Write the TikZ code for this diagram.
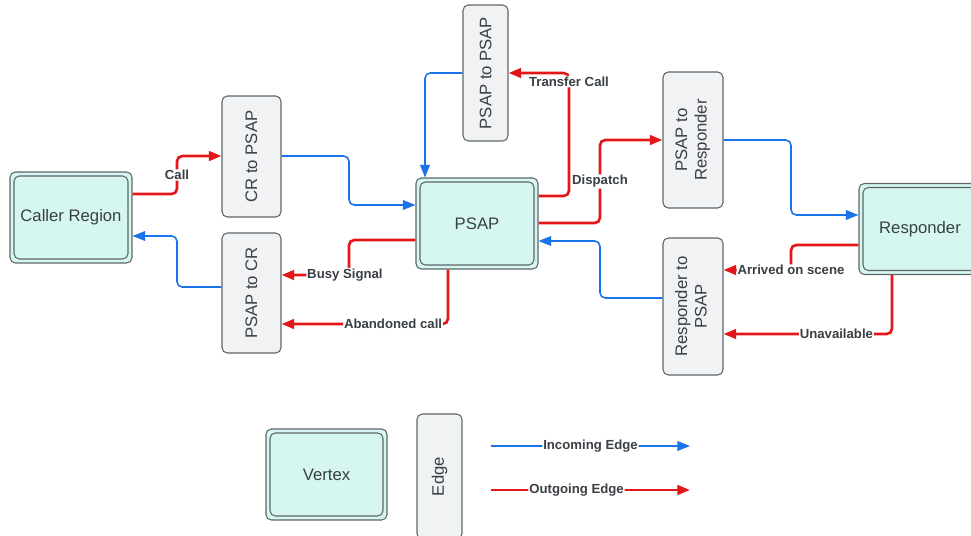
\documentclass[tikz,border=0pt]{standalone}
\usepackage{fontspec}
\setmainfont{Liberation Sans}
\usepackage{tikz}
\usetikzlibrary{calc,positioning,shapes}
\usetikzlibrary{arrows.meta}
\definecolor{mint}{HTML}{D6F7F1}
\definecolor{boxgray}{HTML}{F1F2F4}
\definecolor{bordergray}{HTML}{5D6569}
\definecolor{textgray}{HTML}{3A3F44}
\definecolor{inblue}{HTML}{1A73E8}
\definecolor{outred}{HTML}{E3171A}
\tikzset{>={Triangle[width=5.5pt,length=7.2pt]}}

\begin{document}
\begin{tikzpicture}[x=0.02cm, y=-0.02cm]
        \tikzstyle{vertex} = [draw=bordergray, fill=mint, line width=0.6pt, rounded corners=3pt, text=textgray,
            minimum width=2.44cm, minimum height=1.82cm, font=\fontsize{9.5}{11}\selectfont,
            path picture={\draw[bordergray, line width=0.6pt, rounded corners=3pt]
              ([shift={(0.08cm,-0.08cm)}]path picture bounding box.north west) rectangle
              ([shift={(-0.08cm,0.08cm)}]path picture bounding box.south east);}]
        \tikzstyle{edgebox} = [draw=bordergray, fill=boxgray, line width=0.6pt, rounded corners=3pt, text=textgray,
            inner sep=1pt, font=\fontsize{9.5}{11}\selectfont]
        \tikzstyle{inedge} = [->, inblue, line width=0.9pt, rounded corners=3pt]
        \tikzstyle{outedge} = [->, outred, line width=1.5pt, rounded corners=3pt]
        \tikzstyle{lbl} = [fill=white, inner sep=0.5pt, text=textgray, font=\fontsize{7.5}{9}\selectfont\bfseries]

        \useasboundingbox (0,0) rectangle (971,535);

        \node[vertex] (caller) at (71,217.5) {Caller Region};
        \node[vertex] (psap) at (477,223.5) {PSAP};
        \node[vertex] (resp) at (920,229) {Responder};
        \node[edgebox, minimum width=1.18cm, minimum height=2.42cm] (crp) at (251.5,156.5) {\rotatebox{90}{CR to PSAP}};
        \node[edgebox, minimum width=1.18cm, minimum height=2.4cm] (pcr) at (251.5,293) {\rotatebox{90}{PSAP to CR}};
        \node[edgebox, minimum width=0.9cm, minimum height=2.72cm] (pp) at (485.5,73) {\rotatebox{90}{PSAP to PSAP}};
        \node[edgebox, minimum width=1.2cm, minimum height=2.72cm] (prs) at (693,140)
            {\rotatebox{90}{\begin{tabular}{@{}c@{}}PSAP to\\Responder\end{tabular}}};
        \node[edgebox, minimum width=1.2cm, minimum height=2.74cm] (rp) at (693,306.5)
            {\rotatebox{90}{\begin{tabular}{@{}c@{}}Responder to\\PSAP\end{tabular}}};

        \draw[outedge] (caller.east |- 0,194) -- (177,194) -- node[lbl]{Call} (177,156) -- (crp.west |- 0,156);
        \draw[inedge] (crp.east |- 0,156) -- (349,156) -- (349,205) -- (psap.west |- 0,205);
        \draw[outedge] (psap.west |- 0,240) -- (349,240) -- (349,275) -- node[lbl, pos=0.06]{Busy Signal} (pcr.east |- 0,275);
        \draw[outedge] (psap.south -| 448,0) -- (448,324) -- node[lbl, pos=0.33]{Abandoned call} (pcr.east |- 0,324);
        \draw[inedge] (pcr.west |- 0,287) -- (177,287) -- (177,236) -- (caller.east |- 0,236);
        \draw[inedge] (pp.west |- 0,73) -- (425,73) -- (psap.north -| 425,0);
        \draw[outedge] (psap.east |- 0,196) -- (569,196) -- node[lbl, pos=0.93]{Transfer Call} (569,73) -- (pp.east |- 0,73);
        \draw[outedge] (psap.east |- 0,223) -- (600,223) -- node[lbl]{Dispatch} (600,140) -- (prs.west |- 0,140);
        \draw[inedge] (prs.east |- 0,140) -- (791,140) -- (791,215) -- (resp.west |- 0,215);
        \draw[outedge] (resp.west |- 0,245) -- (791,245) -- (791,270) -- node[lbl, pos=0]{Arrived on scene} (rp.east |- 0,270);
        \draw[outedge] (resp.south -| 892,0) -- (892,334) -- node[lbl, pos=0.33]{Unavailable} (rp.east |- 0,334);
        \draw[inedge] (rp.west |- 0,298) -- (600,298) -- (600,241) -- (psap.east |- 0,241);

        \node[vertex, minimum width=2.42cm] (vtx) at (326.5,474.5) {Vertex};
        \node[edgebox, minimum width=0.9cm, minimum height=2.5cm] (edg) at (439.5,476.5) {\rotatebox{90}{Edge}};
        \coordinate (inA) at (491,446);
        \coordinate (inB) at (690,446);
        \coordinate (outA) at (491,490);
        \coordinate (outB) at (690,490);
        \draw[inedge] (inA) -- node[lbl]{Incoming Edge} (inB);
        \draw[outedge] (outA) -- node[lbl, pos=0.43]{Outgoing Edge} (outB);
      \end{tikzpicture}
\end{document}
